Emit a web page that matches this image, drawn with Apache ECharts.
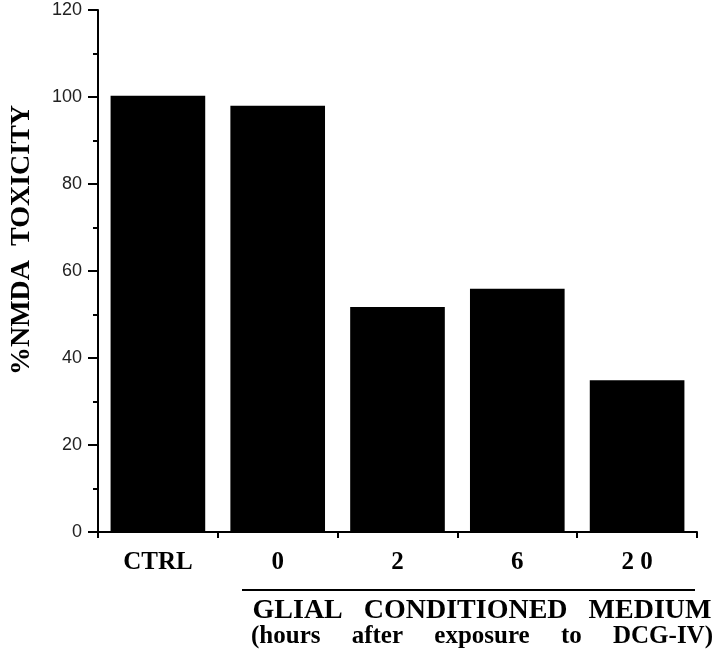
<!DOCTYPE html>
<html>
<head>
<meta charset="utf-8">
<script src="https://cdn.jsdelivr.net/npm/echarts@6/dist/echarts.min.js"></script>
<style>
html,body{margin:0;padding:0;background:#fff;}
#chart{width:720px;height:656px;}
</style>
</head>
<body>
<div id="chart"></div>
<script>
var categories = ['CTRL', '0', '2', '6', '2 0'];
var toxicity = [100.3, 98.0, 51.7, 55.9, 34.9];
var yTicks = [0, 20, 40, 60, 80, 100, 120];

var chart = echarts.init(document.getElementById('chart'), null, {renderer: 'canvas'});
var option = {
  animation: false,
  backgroundColor: '#fff',
  grid: {left: 96, right: 23, top: 10, bottom: 124, containLabel: false},
  xAxis: {
    type: 'category',
    data: categories,
    boundaryGap: true,
    axisLine: {show: true, lineStyle: {color: '#000', width: 2}},
    axisTick: {show: true, alignWithLabel: false, inside: false, length: 6, lineStyle: {color: '#000', width: 2}},
    axisLabel: {
      margin: 18,
      color: '#000',
      fontFamily: 'Liberation Serif',
      fontWeight: 'bold',
      fontSize: 25
    },
    splitLine: {show: false}
  },
  yAxis: {
    type: 'value',
    min: yTicks[0],
    max: yTicks[yTicks.length - 1],
    interval: 20,
    name: '%NMDA  TOXICITY',
    nameLocation: 'middle',
    nameRotate: 90,
    nameGap: 62,
    nameTextStyle: {
      color: '#000',
      fontFamily: 'Liberation Serif',
      fontWeight: 'bold',
      fontSize: 28,
      padding: [0, 0, 0, 62]
    },
    axisLine: {show: true, lineStyle: {color: '#000', width: 2}},
    axisTick: {show: true, inside: false, length: 10, lineStyle: {color: '#000', width: 2}},
    minorTick: {show: true, splitNumber: 2, length: 5, lineStyle: {color: '#000', width: 2}},
    axisLabel: {
      margin: 16,
      color: '#222',
      fontFamily: 'Liberation Sans',
      fontSize: 18
    },
    splitLine: {show: false}
  },
  series: [{
    type: 'bar',
    data: toxicity,
    barCategoryGap: '21%',
    itemStyle: {color: '#000'}
  }],
  graphic: [
    {
      type: 'line',
      shape: {x1: 242, y1: 590, x2: 695, y2: 590},
      style: {stroke: '#000', lineWidth: 2}
    },
    {
      type: 'text',
      x: 482, y: 611,
      style: {
        text: 'GLIAL   CONDITIONED   MEDIUM',
        fill: '#000',
        font: 'bold 28px "Liberation Serif"',
        textAlign: 'center',
        textVerticalAlign: 'middle'
      }
    },
    {
      type: 'text',
      x: 482, y: 637,
      style: {
        text: '(hours     after     exposure     to     DCG-IV)',
        fill: '#000',
        font: 'bold 25px "Liberation Serif"',
        textAlign: 'center',
        textVerticalAlign: 'middle'
      }
    }
  ]
};
chart.setOption(option);
</script>
</body>
</html>
